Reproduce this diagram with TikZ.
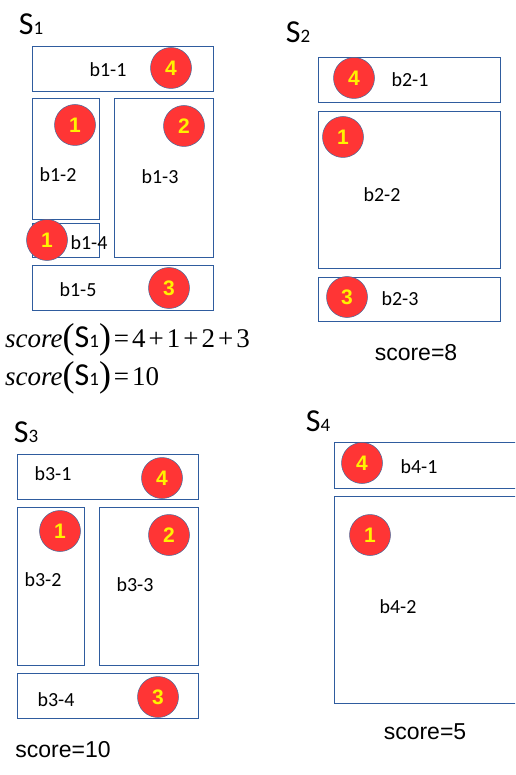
\documentclass[tikz,border=0pt]{standalone}
\usepackage{fontspec}
\setmainfont{Carlito}
\newfontfamily\calfont{Carlito}
\newfontfamily\arialfont{Liberation Sans}
\newfontfamily\mathlikefont{Liberation Serif}
\usepackage{xcolor}
\definecolor{boxblue}{HTML}{2F5C9E}
\definecolor{badgered}{HTML}{FF3535}
\definecolor{badgeedge}{HTML}{4A6A9A}

\tikzset{
  blk/.style={draw=boxblue, line width=0.9pt},
  badge/.style={circle, fill=badgered, draw=badgeedge, line width=0.5pt,
    minimum size=41pt, inner sep=0pt, text=yellow, font=\arialfont\bfseries\fontsize{21}{22}\selectfont},
  lbl/.style={inner sep=0pt, font=\fontsize{20}{22}\selectfont},
  ttl/.style={inner sep=0pt, font=\fontsize{32}{34}\selectfont},
  scr/.style={inner sep=0pt, font=\arialfont\fontsize{23}{26}\selectfont}
}
\newcommand{\setname}[1]{{\calfont S{\fontsize{19}{20}\selectfont #1}}}
\newcommand{\bigparen}[1]{{\mathlikefont\fontsize{36}{36}\selectfont\raisebox{-1pt}{#1}}}
\newcommand{\op}[1]{\kern3pt#1\kern3pt}

\begin{document}
\begin{tikzpicture}[x=1pt,y=-1pt]
  \useasboundingbox (0,0) rectangle (515,775);
  \clip (0,0) rectangle (515,775);

  % boxes of the four solutions
  \draw[blk] (32,46) rectangle (213,91);
  \draw[blk] (32,98) rectangle (99,219);
  \draw[blk] (114,98) rectangle (213,257);
  \draw[blk] (32,223) rectangle (99,257);
  \draw[blk] (32,265) rectangle (213,310);

  \draw[blk] (318,57) rectangle (500,102);
  \draw[blk] (318,111) rectangle (500,268);
  \draw[blk] (318,277) rectangle (500,321);

  \draw[blk] (17,454) rectangle (198,499);
  \draw[blk] (17,507) rectangle (84,665);
  \draw[blk] (99,507) rectangle (198,665);
  \draw[blk] (17,673) rectangle (198,718);

  \draw[blk] (334,442) rectangle (525,488);
  \draw[blk] (334,496) rectangle (525,703);

  % box labels
  \foreach \name/\x/\y/\txt in {l11/108/70/b1-1, l12/58/175/b1-2, l13/160/177/b1-3,
      l14/89/243/b1-4, l15/78/290/b1-5, l21/410/80/b2-1, l22/382/195/b2-2,
      l23/400/299/b2-3, l31/53/474/b3-1, l32/43/580/b3-2, l33/135/585/b3-3,
      l34/56/700/b3-4, l41/419/467/b4-1, l42/398/607/b4-2}
    \node[lbl] (\name) at (\x,\y) {\txt};

  % scores in the boxes
  \foreach \name/\x/\y/\n in {c11/171/68/4, c12/75/125/1, c13/184/126/2,
      c14/47/240/1, c15/169/288/3, c21/354/78/4, c22/343/137/1, c23/347/297/3,
      c31/162/478/4, c32/60/531/1, c33/169/535/2, c34/158/697/3,
      c41/362/463/4, c42/370/535/1}
    \node[badge] (\name) at (\x,\y) {\n};

  % titles
  \node[ttl] (s1) at (31,24) {\setname{1}};
  \node[ttl] (s2) at (298,32) {\setname{2}};
  \node[ttl] (s3) at (26,432) {\setname{3}};
  \node[ttl] (s4) at (318,421) {\setname{4}};

  % totals
  \node[inner sep=0pt, anchor=west] (f1) at (5,340)
    {\mathlikefont\fontsize{27}{30}\selectfont\itshape score\upshape\bigparen{(}{\fontsize{32}{30}\selectfont\setname{1}}\bigparen{)}\op{=}4\op{+}1\op{+}2\op{+}3};
  \node[inner sep=0pt, anchor=west] (f2) at (5,378)
    {\mathlikefont\fontsize{27}{30}\selectfont\itshape score\upshape\bigparen{(}{\fontsize{32}{30}\selectfont\setname{1}}\bigparen{)}\op{=}10};
  \node[scr] (t2) at (416,353) {score=8};
  \node[scr] (t3) at (63,750) {score=10};
  \node[scr] (t4) at (425,732) {score=5};
\end{tikzpicture}
\end{document}
